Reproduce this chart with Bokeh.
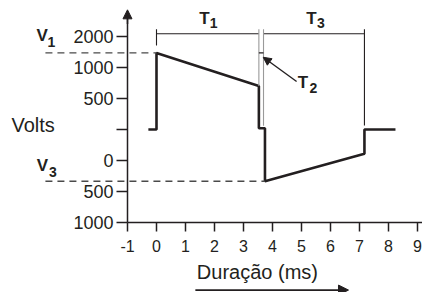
from bokeh.plotting import figure
from bokeh.models import Label, Arrow, NormalHead, FixedTicker
from bokeh.embed import file_html
from bokeh.resources import INLINE

# ---- data ----
t_ms = [-0.28, 0.0, 0.0, 3.53, 3.53, 3.74, 3.74, 7.17, 7.17, 8.24]
v_level = [0.0, 0.0, 2.47, 1.40, 0.04, 0.04, -1.67, -0.78, 0.0, 0.0]

x_ticks = [-1, 0, 1, 2, 3, 4, 5, 6, 7, 8, 9]
x_tick_labels = ["-1", "0", "1", "2", "3", "4", "5", "6", "7", "8", "9"]
y_tick_pos = [-3, -2, -1, 0, 1, 2, 3]
y_tick_labels = ["1000", "500", "0", "", "500", "1000", "2000"]

t_on = t_ms[1]
t1_end = t_ms[3]
t2_end = 3.69
t3_end = t_ms[7]
v1 = v_level[2]
v1_end = v_level[3]
v3 = v_level[6]

FONT = "Liberation Sans"
INK = "#231f20"

p = figure(width=422, height=292, x_range=(-5.379, 9.172), y_range=(-5.258, 4.161),
           output_backend="svg", toolbar_location=None,
           min_border=0, min_border_left=0, min_border_right=0,
           min_border_top=0, min_border_bottom=0)
p.grid.visible = False
p.outline_line_color = None
p.background_fill_color = "white"
p.border_fill_color = "white"

# axes (placed at fixed data positions)
p.xaxis.fixed_location = -3
p.yaxis.fixed_location = -1
p.xaxis.bounds = (-1, 9.17)
p.yaxis.bounds = (-3, 3.8)
p.xaxis.ticker = FixedTicker(ticks=x_ticks)
p.yaxis.ticker = FixedTicker(ticks=y_tick_pos)
p.xaxis.major_label_overrides = {k: v for k, v in zip(x_ticks, x_tick_labels)}
p.yaxis.major_label_overrides = {k: v for k, v in zip(y_tick_pos, y_tick_labels)}
for ax in (p.xaxis, p.yaxis):
    ax.axis_line_color = INK
    ax.axis_line_width = 1.5
    ax.major_tick_line_color = INK
    ax.major_tick_line_width = 1.5
    ax.major_tick_in = 0
    ax.minor_tick_line_color = None
    ax.major_label_text_font = FONT
    ax.major_label_text_color = INK
p.yaxis.major_tick_out = 11
p.yaxis.major_label_standoff = 3
p.yaxis.major_label_text_font_size = "18px"
p.xaxis.major_tick_out = 9
p.xaxis.major_label_standoff = 9
p.xaxis.major_label_text_font_size = "16px"

# waveform
p.line(t_ms, v_level, line_color=INK, line_width=2.6)

# brackets and guide lines
br_y = 3.09
br_top = 3.23
p.segment(x0=[t_on, t2_end], y0=[br_y, br_y], x1=[t1_end, t3_end], y1=[br_y, br_y],
          line_color=INK, line_width=1.1)
p.segment(x0=[t_on, t3_end], y0=[br_top, br_top], x1=[t_on, t3_end], y1=[2.71, 0.13],
          line_color=INK, line_width=1.1)
p.segment(x0=[t1_end, t2_end], y0=[br_top, br_top], x1=[t1_end, t2_end], y1=[v1_end, 0.12],
          line_color="#9a9a9a", line_width=1.1)
p.segment(x0=[t1_end], y0=[v1], x1=[t2_end], y1=[v1], line_color=INK, line_width=1.1)

# dashed V1 / V3 guides (extend left of the axis)
p.segment(x0=[-3.83, -3.83], y0=[v1, v3], x1=[t_on, t_ms[5]], y1=[v1, v3],
          line_color="#4a4a4a", line_width=1.3, line_dash="7 5")

# T2 pointer arrow
p.add_layout(Arrow(end=NormalHead(size=8, fill_color=INK, line_color=INK),
                   x_start=4.83, y_start=1.55, x_end=3.68, y_end=2.33,
                   line_color=INK, line_width=1.4))

# y-axis arrow head
p.add_layout(Arrow(end=NormalHead(size=9, fill_color=INK, line_color=INK),
                   x_start=-1, y_start=3.4, x_end=-1, y_end=3.86,
                   line_color=INK, line_width=1.5))

# duration arrow below x title
p.add_layout(Arrow(end=NormalHead(size=10, fill_color=INK, line_color=INK),
                   x_start=1.34, y_start=-5.18, x_end=6.62, y_end=-5.18,
                   line_color=INK, line_width=1.6))

def lab(x, y, s, size, bold=True, align="center"):
    p.add_layout(Label(x=x, y=y, text=s, text_font=FONT, text_font_size=size,
                       text_font_style="bold" if bold else "normal",
                       text_color=INK, text_align=align,
                       text_baseline="alphabetic"))

# axis titles
lab(-5.0, 0.13, "Volts", "20px", bold=False, align="left")
lab(3.48, -4.61, "Duração (ms)", "20px", bold=False)
# V1, V3
lab(-3.94, 3.03, "V", "17px")
lab(-3.62, 2.82, "1", "14px")
lab(-3.93, -1.16, "V", "17px")
lab(-3.57, -1.38, "3", "14px")
# T1, T2, T3
lab(1.65, 3.57, "T", "17px")
lab(1.97, 3.44, "1", "14px")
lab(5.34, 3.57, "T", "17px")
lab(5.67, 3.44, "3", "14px")
lab(5.05, 1.50, "T", "17px")
lab(5.41, 1.35, "2", "14px")

open("out.html", "w").write(file_html(p, INLINE))
